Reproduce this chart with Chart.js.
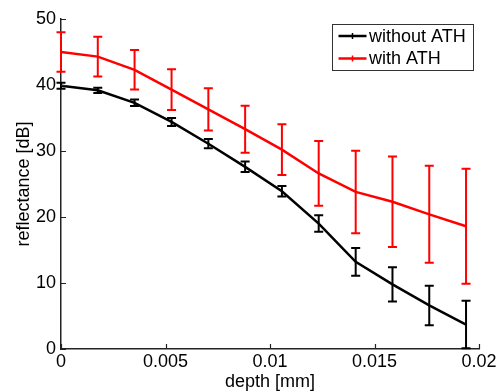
<!DOCTYPE html>
<html>
<head>
<meta charset="utf-8">
<script src="https://cdn.jsdelivr.net/npm/chart.js@4.4.1/dist/chart.umd.min.js"></script>
<style>
  html, body { margin: 0; padding: 0; background: #fff; }
  canvas { display: block; }
</style>
</head>
<body>
<canvas id="c" width="501" height="392"></canvas>
<script>
// ---- data ----
const depthMm = [0, 0.00176, 0.00352, 0.00529, 0.00705, 0.00881, 0.01057, 0.01233, 0.0141, 0.01586, 0.01762, 0.01938];
const withoutATH = [39.9, 39.2, 37.3, 34.4, 31.1, 27.6, 23.9, 19.0, 13.2, 9.8, 6.6, 3.7];
const withoutATHErr = [0.45, 0.4, 0.5, 0.6, 0.7, 0.8, 0.8, 1.25, 2.1, 2.6, 3.0, 3.6];
const withATH = [45.0, 44.3, 42.3, 39.3, 36.3, 33.3, 30.2, 26.6, 23.8, 22.3, 20.4, 18.6];
const withATHErr = [3.0, 3.0, 3.0, 3.1, 3.2, 3.55, 3.85, 4.9, 6.25, 6.85, 7.35, 8.7];
const seriesLabels = ['without ATH', 'with ATH'];
const xTickValues = [0, 0.005, 0.01, 0.015, 0.02];
const xTickLabels = ['0', '0.005', '0.01', '0.015', '0.02'];
const yTickValues = [0, 10, 20, 30, 40, 50];
const yTickLabels = ['0', '10', '20', '30', '40', '50'];
const xTitle = 'depth [mm]';
const yTitle = 'reflectance [dB]';

const FONT = "'Liberation Sans', Arial, Helvetica, sans-serif";
const AXIS_COLOR = '#222';
const COLORS = ['#000000', '#ff0000'];
const ERRS = [withoutATHErr, withATHErr];
const VALS = [withoutATH, withATH];

const toPoints = (vals) => depthMm.map((x, i) => ({ x: x, y: vals[i] }));

const errorBarPlugin = {
  id: 'errorBars',
  afterDatasetsDraw(chart) {
    const ctx = chart.ctx;
    const xs = chart.scales.x, ys = chart.scales.y;
    const order = [0, 1];
    order.forEach(di => {
      const vals = VALS[di], errs = ERRS[di];
      ctx.save();
      ctx.strokeStyle = COLORS[di];
      ctx.lineWidth = 2;
      ctx.lineCap = 'butt';
      for (let j = 0; j < depthMm.length; j++) {
        const px = xs.getPixelForValue(depthMm[j]);
        const pt = ys.getPixelForValue(vals[j] + errs[j]);
        const pb = ys.getPixelForValue(vals[j] - errs[j]);
        const cw = 4.5;
        ctx.beginPath();
        ctx.moveTo(px, pt); ctx.lineTo(px, pb);
        ctx.moveTo(px - cw, pt); ctx.lineTo(px + cw, pt);
        ctx.moveTo(px - cw, pb); ctx.lineTo(px + cw, pb);
        ctx.stroke();
      }
      ctx.restore();
    });
  }
};

const axesPlugin = {
  id: 'inwardTicks',
  afterDraw(chart) {
    const ctx = chart.ctx;
    const xs = chart.scales.x, ys = chart.scales.y;
    const a = chart.chartArea;
    ctx.save();
    ctx.strokeStyle = AXIS_COLOR;
    ctx.lineWidth = 1.2;
    ctx.beginPath();
    xTickValues.forEach(v => {
      const px = Math.round(xs.getPixelForValue(v)) + 0.5;
      ctx.moveTo(px, a.bottom); ctx.lineTo(px, a.bottom - 5);
    });
    yTickValues.forEach(v => {
      const py = Math.round(ys.getPixelForValue(v)) + 0.5;
      ctx.moveTo(a.left, py); ctx.lineTo(a.left + 5, py);
    });
    ctx.stroke();
    ctx.restore();

    // legend
    const bx = a.right - 146.5, by = a.top + 5.5, bw = 141, bh = 46;
    ctx.save();
    ctx.fillStyle = '#fff';
    ctx.fillRect(bx, by, bw, bh);
    ctx.strokeStyle = '#333';
    ctx.lineWidth = 1;
    ctx.strokeRect(bx, by, bw, bh);
    ctx.font = '18px ' + FONT;
    ctx.textBaseline = 'middle';
    ctx.textAlign = 'left';
    seriesLabels.forEach((lab, i) => {
      const ly = by + 11.5 + i * 22.5;
      ctx.strokeStyle = COLORS[i];
      ctx.lineWidth = 2.5;
      ctx.beginPath();
      ctx.moveTo(bx + 6, ly); ctx.lineTo(bx + 34, ly);
      ctx.stroke();
      ctx.lineWidth = 1.5;
      ctx.beginPath();
      ctx.moveTo(bx + 20, ly - 3); ctx.lineTo(bx + 20, ly + 3);
      ctx.stroke();
      ctx.fillStyle = '#000';
      ctx.fillText(lab, bx + 36.5, ly + 1);
    });
    ctx.restore();
  }
};

new Chart(document.getElementById('c'), {
  type: 'line',
  data: {
    datasets: [
      { label: seriesLabels[0], data: toPoints(withoutATH), borderColor: COLORS[0], borderWidth: 2.5, pointRadius: 0, tension: 0, fill: false, order: 1 },
      { label: seriesLabels[1], data: toPoints(withATH), borderColor: COLORS[1], borderWidth: 2.5, pointRadius: 0, tension: 0, fill: false, order: 0 }
    ]
  },
  options: {
    responsive: false,
    animation: false,
    layout: { padding: { top: 19, right: 22, left: 0, bottom: 0 } },
    plugins: { legend: { display: false }, tooltip: { enabled: false } },
    scales: {
      x: {
        type: 'linear', min: 0, max: 0.02, position: 'bottom',
        grid: { display: false, drawTicks: false },
        border: { display: true, color: AXIS_COLOR, width: 1.5 },
        afterBuildTicks: s => { s.ticks = xTickValues.map(v => ({ value: v })); },
        afterFit: s => { s.height = 43; },
        ticks: {
          padding: 2, color: '#000', maxRotation: 0, autoSkip: false,
          font: { family: FONT, size: 18 },
          callback: (v) => { const k = xTickValues.findIndex(t => Math.abs(t - v) < 1e-9); return k >= 0 ? xTickLabels[k] : ''; }
        },
        title: { display: true, text: xTitle, color: '#000', font: { family: FONT, size: 18, lineHeight: 1.1 }, padding: { top: 0, bottom: 0 } }
      },
      y: {
        type: 'linear', min: 0, max: 50,
        grid: { display: false, drawTicks: false },
        border: { display: true, color: AXIS_COLOR, width: 1.5 },
        afterBuildTicks: s => { s.ticks = yTickValues.map(v => ({ value: v })); },
        afterFit: s => { s.width = 61; },
        ticks: {
          padding: 5, color: '#000', autoSkip: false,
          font: { family: FONT, size: 18 },
          callback: (v) => { const k = yTickValues.indexOf(v); return k >= 0 ? yTickLabels[k] : ''; }
        },
        title: { display: true, text: yTitle, color: '#000', font: { family: FONT, size: 18 }, padding: { top: 13, bottom: 0 } }
      }
    }
  },
  plugins: [errorBarPlugin, axesPlugin]
});
</script>
</body>
</html>
